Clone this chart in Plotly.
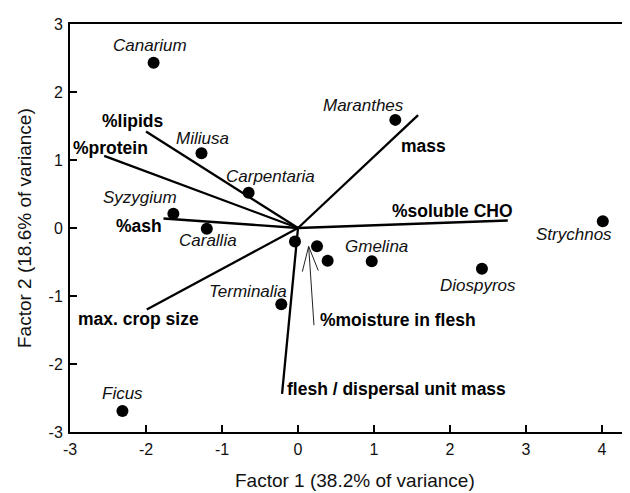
import plotly.graph_objects as go

# ---- data ----
species = ["Canarium", "Miliusa", "Carpentaria", "Syzygium", "Carallia", "Maranthes",
           "Strychnos", "Gmelina", "Diospyros", "Terminalia", "Ficus", "", "", ""]
factor1 = [-1.90, -1.27, -0.65, -1.64, -1.20, 1.28, 4.01, 0.97, 2.42, -0.22, -2.31, -0.04, 0.25, 0.39]
factor2 = [2.43, 1.10, 0.52, 0.21, -0.01, 1.59, 0.10, -0.49, -0.60, -1.12, -2.69, -0.20, -0.27, -0.48]

variables = ["%lipids", "%protein", "%ash", "mass", "%soluble CHO", "max. crop size",
             "flesh / dispersal unit mass"]
load1 = [-2.00, -2.55, -1.77, 1.58, 2.76, -1.99, -0.21]
load2 = [1.42, 1.06, 0.14, 1.66, 0.11, -1.20, -2.44]

moisture_label = "%moisture in flesh"
moisture_tail = (0.21, -1.43)
moisture_tip = (0.14, -0.27)

x_ticks = [-3, -2, -1, 0, 1, 2, 3, 4]
y_ticks = [-3, -2, -1, 0, 1, 2, 3]
x_title = "Factor 1 (38.2% of variance)"
y_title = "Factor 2 (18.6% of variance)"

# ---- layout geometry ----
W, H = 630, 493
ML, MR, MT, MB = 62, 8, 13, 69
XR = [-3, 4.368]
YR = [-3, 3]
pxx = (W - ML - MR) / (XR[1] - XR[0])
pxy = (H - MT - MB) / (YR[1] - YR[0])

FONT = "Arial, Liberation Sans, sans-serif"

# species label offsets (px)
sp_shift = {
    "Canarium": (-4, 17), "Miliusa": (1, 15), "Carpentaria": (22, 16),
    "Syzygium": (-33, 16), "Carallia": (1, -12), "Maranthes": (-32, 14),
    "Strychnos": (-29, -13), "Gmelina": (5, 15), "Diospyros": (-4, -17),
    "Terminalia": (-33, 13), "Ficus": (0, 17),
}
# variable label offsets (px) relative to vector end
var_shift = {
    "%lipids": (-13, 10), "%protein": (6, 8), "%ash": (-24, -8),
    "mass": (5, -31), "%soluble CHO": (-55, 10), "max. crop size": (-8, -9),
    "flesh / dispersal unit mass": (114, 5),
}

fig = go.Figure()

# loading vectors
lx, ly = [], []
for a, b in zip(load1, load2):
    lx += [0, a, None]
    ly += [0, b, None]
fig.add_trace(go.Scatter(x=lx, y=ly, mode="lines", line=dict(color="black", width=2.3),
                         hoverinfo="skip", showlegend=False))

# moisture arrow (thin) with open head
tx, ty = moisture_tip
sx, sy = moisture_tail
dxp = (tx - sx) * pxx
dyp = (ty - sy) * pxy
L = (dxp ** 2 + dyp ** 2) ** 0.5
ux, uy = dxp / L, dyp / L
px_, py_ = -uy, ux
head_len, head_half = 25, 8
bx, by = -ux * head_len, -uy * head_len
h1 = (tx + (bx + px_ * head_half) / pxx, ty + (by + py_ * head_half) / pxy)
h2 = (tx + (bx - px_ * head_half) / pxx, ty + (by - py_ * head_half) / pxy)
fig.add_trace(go.Scatter(x=[sx, tx, None, h1[0], tx, h2[0]],
                         y=[sy, ty, None, h1[1], ty, h2[1]],
                         mode="lines", line=dict(color="#222", width=1),
                         hoverinfo="skip", showlegend=False))

# points
fig.add_trace(go.Scatter(x=factor1, y=factor2, mode="markers",
                         marker=dict(color="black", size=12),
                         hoverinfo="skip", showlegend=False))

ann = []
for name, a, b in zip(species, factor1, factor2):
    if not name:
        continue
    xs, ys = sp_shift[name]
    ann.append(dict(x=a, y=b, xref="x", yref="y", text="<i>" + name + "</i>", showarrow=False,
                    xshift=xs, yshift=ys, font=dict(family=FONT, size=17, color="#111")))
for name, a, b in zip(variables, load1, load2):
    xs, ys = var_shift[name]
    ann.append(dict(x=a, y=b, xref="x", yref="y", text="<b>" + name + "</b>", showarrow=False,
                    xshift=xs, yshift=ys, font=dict(family=FONT, size=17.5, color="black")))
ann.append(dict(x=sx, y=sy, xref="x", yref="y", text="<b>" + moisture_label + "</b>",
                showarrow=False, xanchor="left", xshift=4, yshift=5,
                font=dict(family=FONT, size=17.5, color="black")))
ann.append(dict(x=0.509, y=0, xref="paper", yref="paper", text=x_title, showarrow=False,
                xanchor="center", yanchor="middle", yshift=-48,
                font=dict(family=FONT, size=19, color="#111")))
ann.append(dict(x=0, y=0.5, xref="paper", yref="paper", text=y_title, showarrow=False,
                xanchor="center", yanchor="middle", textangle=-90, xshift=-46,
                font=dict(family=FONT, size=19, color="#111")))

fig.update_layout(
    width=W, height=H,
    margin=dict(l=ML, r=MR, t=MT, b=MB),
    paper_bgcolor="white", plot_bgcolor="white",
    annotations=ann,
    xaxis=dict(range=XR, tickvals=x_ticks, ticktext=[str(v) for v in x_ticks],
               showgrid=False, zeroline=False, showline=True, mirror=True,
               linecolor="black", linewidth=2, ticks="inside", ticklen=7, tickwidth=2,
               tickcolor="black", ticklabelstandoff=2,
               tickfont=dict(family=FONT, size=16, color="#111")),
    yaxis=dict(range=YR, tickvals=y_ticks, ticktext=[str(v) for v in y_ticks],
               showgrid=False, zeroline=False, showline=True, mirror=False,
               linecolor="black", linewidth=2, ticks="inside", ticklen=7, tickwidth=2,
               tickcolor="black", ticklabelstandoff=2,
               tickfont=dict(family=FONT, size=16, color="#111")),
)

fig.write_html("out.html")
